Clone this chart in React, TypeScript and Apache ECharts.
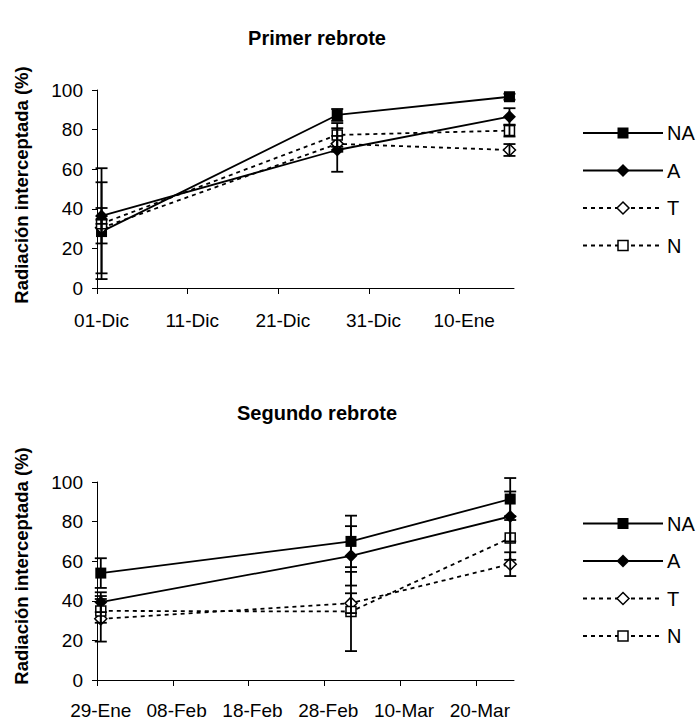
import React, { useEffect, useRef } from "react";
import * as echarts from "echarts";

// ---------- data ----------
const seriesNames = ["NA", "A", "T", "N"];

// Primer rebrote
const topStart = "2000-12-01";
const topDates = ["2000-12-01", "2000-12-27", "2001-01-15"];
const topTickLabels = ["01-Dic", "11-Dic", "21-Dic", "31-Dic", "10-Ene"];
const topNA = [28.5, 87.4, 96.6];
const topA = [36.4, 69.7, 86.5];
const topT = [30.4, 72.8, 69.7];
const topN = [32.5, 77.3, 79.5];
const topErrNA = [6, 3, 1.5];
const topErrA = [4, 11, 4.3];
const topErrT = [23, 4, 3];
const topErrN = [28, 6, 3];

// Segundo rebrote
const bottomStart = "2001-01-29";
const bottomDates = ["2001-01-29", "2001-03-03", "2001-03-24"];
const bottomTickLabels = ["29-Ene", "08-Feb", "18-Feb", "28-Feb", "10-Mar", "20-Mar"];
const bottomNA = [54, 70, 91.4];
const bottomA = [39.3, 62.7, 82.6];
const bottomT = [30.9, 38.8, 58.5];
const bottomN = [34.9, 34.6, 71.7];
const bottomErrNA = [7.5, 13, 10.6];
const bottomErrA = [5, 15, 12.6];
const bottomErrT = [11.5, 5, 6];
const bottomErrN = [6, 20, 11];

const yTicks = [0, 20, 40, 60, 80, 100];

// ---------- styles ----------
const FONT = "'Liberation Sans', Arial, sans-serif";
const LW = 1.8;
const seriesStyles = [
  { symbol: "rect", size: 11, fill: "#000", dash: "solid" as any },
  { symbol: "diamond", size: 13, fill: "#000", dash: "solid" as any },
  { symbol: "diamond", size: 12, fill: "#fff", dash: [4, 4] as any },
  { symbol: "rect", size: 10, fill: "#fff", dash: [4, 4] as any },
];

const DAY = 86400000;
const dayOffset = (start: string, d: string) =>
  (Date.parse(d + "T00:00:00Z") - Date.parse(start + "T00:00:00Z")) / DAY + 0.5;

function buildChart(
  idx: number,
  start: string,
  dates: string[],
  vals: number[][],
  errs: number[][]
) {
  const series: any[] = [];
  vals.forEach((v, si) => {
    const st = seriesStyles[si];
    series.push({
      type: "line",
      name: seriesNames[si],
      xAxisIndex: idx,
      yAxisIndex: idx,
      data: v.map((y, i) => [dayOffset(start, dates[i]), y]),
      symbol: st.symbol,
      symbolSize: st.size,
      showSymbol: true,
      lineStyle: { color: "#000", width: LW, type: st.dash },
      itemStyle: { color: st.fill, borderColor: "#000", borderWidth: st.fill === "#fff" ? 1.5 : 0 },
      z: 2,
      silent: true,
    });
    series.push({
      type: "custom",
      name: seriesNames[si] + " err",
      xAxisIndex: idx,
      yAxisIndex: idx,
      clip: false,
      z: 3,
      silent: true,
      data: v.map((y, i) => [dayOffset(start, dates[i]), y, y - errs[si][i], y + errs[si][i]]),
      renderItem: (params: any, api: any) => {
        const x = api.value(0);
        const pLo = api.coord([x, api.value(2)]);
        const pHi = api.coord([x, api.value(3)]);
        const w = 6;
        const style = { stroke: "#000", lineWidth: LW };
        return {
          type: "group",
          children: [
            { type: "line", shape: { x1: pLo[0], y1: pLo[1], x2: pHi[0], y2: pHi[1] }, style },
            { type: "line", shape: { x1: pLo[0] - w, y1: pLo[1], x2: pLo[0] + w, y2: pLo[1] }, style },
            { type: "line", shape: { x1: pHi[0] - w, y1: pHi[1], x2: pHi[0] + w, y2: pHi[1] }, style },
          ],
        };
      },
    });
  });
  return series;
}

function legendGraphics(baseY: number) {
  const els: any[] = [];
  seriesNames.forEach((name, i) => {
    const y = baseY + i * 37.5;
    const st = seriesStyles[i];
    els.push({
      type: "line",
      shape: { x1: 583, y1: y, x2: 663, y2: y },
      style: { stroke: "#000", lineWidth: LW, lineDash: st.dash === "solid" ? null : st.dash },
    });
    const cx = 623;
    if (st.symbol === "rect") {
      const s = st.size;
      els.push({
        type: "rect",
        shape: { x: cx - s / 2, y: y - s / 2, width: s, height: s },
        style: { fill: st.fill, stroke: "#000", lineWidth: st.fill === "#fff" ? 1.5 : 0 },
      });
    } else {
      const h = st.size / 2;
      els.push({
        type: "polygon",
        shape: { points: [[cx, y - h], [cx + h, y], [cx, y + h], [cx - h, y]] },
        style: { fill: st.fill, stroke: "#000", lineWidth: st.fill === "#fff" ? 1.5 : 0 },
      });
    }
    els.push({
      type: "text",
      x: 667,
      y: y,
      style: {
        text: name,
        font: `20px ${FONT}`,
        fill: "#000",
        textAlign: "left",
        textVerticalAlign: "middle",
        align: "left",
        verticalAlign: "middle",
      },
    });
  });
  return els;
}

function xAxisFor(idx: number, maxDay: number, labels: string[], margin: number) {
  const tickVals = labels.map((_, i) => i * 10);
  return {
    type: "value",
    gridIndex: idx,
    min: 0,
    max: maxDay,
    interval: 10,
    splitLine: { show: false },
    axisLine: { show: true, onZero: false, lineStyle: { color: "#000", width: 1 } },
    axisTick: { show: true, inside: false, length: 6, lineStyle: { color: "#000" }, customValues: tickVals },
    axisLabel: {
      show: true,
      margin,
      color: "#000",
      fontFamily: FONT,
      fontSize: 19,
      customValues: tickVals.map((v) => v + 0.5),
      formatter: (v: number) => labels[Math.floor(v / 10)] ?? "",
    },
  };
}

function yAxisFor(idx: number) {
  return {
    type: "value",
    gridIndex: idx,
    min: yTicks[0],
    max: yTicks[yTicks.length - 1],
    interval: 20,
    splitLine: { show: false },
    axisLine: { show: true, lineStyle: { color: "#000", width: 1 } },
    axisTick: { show: true, inside: false, length: 5, lineStyle: { color: "#000" } },
    axisLabel: { margin: 14, color: "#000", fontFamily: FONT, fontSize: 19 },
  };
}

export default function App() {
  const ref = useRef<HTMLDivElement>(null);
  useEffect(() => {
    if (!ref.current) return;
    const chart = echarts.init(ref.current, undefined, { renderer: "svg" });
    const yName = "Radiación interceptada (%)";
    chart.setOption({
      animation: false,
      backgroundColor: "#fff",
      grid: [
        { left: 97, top: 90, width: 417, height: 198 },
        { left: 97, top: 482, width: 417, height: 198 },
      ],
      xAxis: [xAxisFor(0, 46, topTickLabels, 23), xAxisFor(1, 55, bottomTickLabels, 21)],
      yAxis: [yAxisFor(0), yAxisFor(1)],
      series: [
        ...buildChart(0, topStart, topDates, [topNA, topA, topT, topN], [topErrNA, topErrA, topErrT, topErrN]),
        ...buildChart(1, bottomStart, bottomDates, [bottomNA, bottomA, bottomT, bottomN], [bottomErrNA, bottomErrA, bottomErrT, bottomErrN]),
      ],
      graphic: [
        {
          type: "text",
          x: 317,
          y: 38,
          style: { text: "Primer rebrote", font: `bold 20px ${FONT}`, fill: "#000", textAlign: "center", textVerticalAlign: "middle", align: "center", verticalAlign: "middle" },
        },
        {
          type: "text",
          x: 317,
          y: 413,
          style: { text: "Segundo rebrote", font: `bold 20px ${FONT}`, fill: "#000", textAlign: "center", textVerticalAlign: "middle", align: "center", verticalAlign: "middle" },
        },
        {
          type: "text",
          x: 21,
          y: 185,
          rotation: Math.PI / 2,
          style: { text: yName, font: `bold 18.5px ${FONT}`, fill: "#000", textAlign: "center", textVerticalAlign: "middle", align: "center", verticalAlign: "middle" },
        },
        {
          type: "text",
          x: 21,
          y: 566,
          rotation: Math.PI / 2,
          style: { text: yName, font: `bold 18.5px ${FONT}`, fill: "#000", textAlign: "center", textVerticalAlign: "middle", align: "center", verticalAlign: "middle" },
        },
        ...legendGraphics(133),
        ...legendGraphics(523.5),
      ],
    });
    return () => chart.dispose();
  }, []);
  return (
    <div
      ref={ref}
      style={{ position: "fixed", left: 0, top: 0, width: 698, height: 725, background: "#fff" }}
    />
  );
}
